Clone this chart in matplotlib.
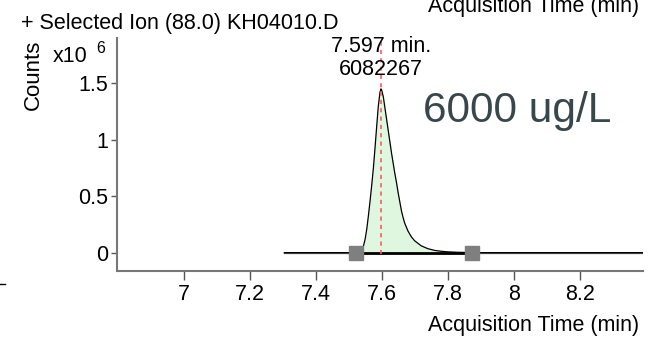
import matplotlib
matplotlib.use("Agg")
import matplotlib.pyplot as plt
import numpy as np

plt.rcParams['font.family'] = ['Liberation Sans', 'DejaVu Sans']

# Extracted ion chromatogram, m/z 88.0 (counts in units of 1e6)
time_min = [7.305, 7.52, 7.53, 7.54, 7.545, 7.55, 7.555, 7.56, 7.565, 7.57, 7.575,
            7.58, 7.585, 7.59, 7.595, 7.598, 7.60, 7.605, 7.61, 7.615, 7.62,
            7.625, 7.63, 7.635, 7.64, 7.645, 7.65, 7.655, 7.66, 7.665, 7.67,
            7.68, 7.69, 7.70, 7.72, 7.74, 7.76, 7.78, 7.80, 7.83, 7.87, 7.90, 8.392]
counts_e6 = [0.0, 0.0, 0.003, 0.03, 0.06, 0.12, 0.21, 0.33, 0.46, 0.60, 0.75,
             0.93, 1.12, 1.30, 1.42, 1.45, 1.44, 1.38, 1.28, 1.18, 1.08,
             0.98, 0.88, 0.79, 0.70, 0.62, 0.53, 0.45, 0.37, 0.31, 0.26,
             0.19, 0.14, 0.105, 0.06, 0.035, 0.02, 0.012, 0.007, 0.003, 0.001, 0.0, 0.0]

# Peak integration
peak_rt = 7.597
peak_area = 6082267
integ_start = 7.521
integ_end = 7.874
concentration_label = "6000 ug/L"

x_ticks = [7, 7.2, 7.4, 7.6, 7.8, 8, 8.2]
x_tick_labels = ["7", "7.2", "7.4", "7.6", "7.8", "8", "8.2"]
y_ticks = [0, 0.5, 1, 1.5]
y_tick_labels = ["0", "0.5", "1", "1.5"]

FS = 15.5
W, H = 649, 338
fig = plt.figure(figsize=(W / 100, H / 100), dpi=100)
ax = fig.add_axes([117 / W, 1 - 270.7 / H, (643 - 117) / W, (270.7 - 38) / H])

t = np.array(time_min)
c = np.array(counts_e6)

# Integrated region
mask = (t >= integ_start) & (t <= integ_end)
ax.fill_between(t[mask], 0, c[mask], color="#dff7df", lw=0, zorder=1)
ax.plot(t, c, color="black", lw=0.9, zorder=3)
ax.plot([7.305, 8.392], [0, 0], color="#555555", lw=0.9, zorder=2)
ax.plot([integ_start, integ_end], [0, 0], color="black", lw=2.0, zorder=4)
ax.plot([integ_start, integ_end], [0, 0], ls="none", marker="s", ms=10.5,
        color="#7f7f7f", mec="#7f7f7f", zorder=5)

# Retention time marker
ax.axvline(peak_rt, ymin=0.07, ymax=1.0, color="#ff5a5a", ls=(0, (2.5, 2.5)),
           lw=1.2, zorder=6)

ax.text(peak_rt, 1.78, f"{peak_rt:.3f} min.", ha="center", va="baseline",
        fontsize=FS, zorder=7)
ax.text(peak_rt, 1.57, f"{peak_area}", ha="center", va="baseline",
        fontsize=FS, zorder=7)

ax.set_xlim(6.798, 8.392)
ax.set_ylim(-0.16, 1.9)
ax.set_xticks(x_ticks)
ax.set_xticklabels(x_tick_labels)
ax.set_yticks(y_ticks)
ax.set_yticklabels(y_tick_labels)

for side in ("top", "right"):
    ax.spines[side].set_visible(False)
for side in ("left", "bottom"):
    ax.spines[side].set_color("#777777")
    ax.spines[side].set_linewidth(1.5)
ax.tick_params(axis="x", direction="out", length=6.5, width=1.0, color="#555555",
               labelsize=FS, pad=3)
ax.tick_params(axis="y", direction="out", length=4.5, width=1.0, color="#555555",
               labelsize=FS, pad=2)

# Figure-level labels
fig.text(21 / W, 1 - 29 / H, "+ Selected Ion (88.0) KH04010.D", fontsize=FS,
         va="baseline", ha="left")
fig.text(639 / W, 1 - 12 / H, "Acquisition Time (min)", fontsize=FS,
         va="baseline", ha="right")
fig.text(639 / W, 1 - 331.5 / H, "Acquisition Time (min)", fontsize=FS,
         va="baseline", ha="right")
fig.text(33 / W, 1 - 75 / H, "Counts", fontsize=16, rotation=90,
         ha="center", va="center")
fig.text(53 / W, 1 - 62 / H, "x10", fontsize=FS, va="baseline", ha="left")
fig.text(96 / W, 1 - 53 / H, "6", fontsize=11.5, va="baseline", ha="left")
fig.text(423 / W, 1 - 122 / H, concentration_label, fontsize=30.5, color="#37474c",
         va="baseline", ha="left")
fig.add_artist(plt.Line2D([0, 5 / W], [1 - 284 / H, 1 - 284 / H],
                          color="black", lw=1.0))

fig.savefig("out.png", dpi=100)
